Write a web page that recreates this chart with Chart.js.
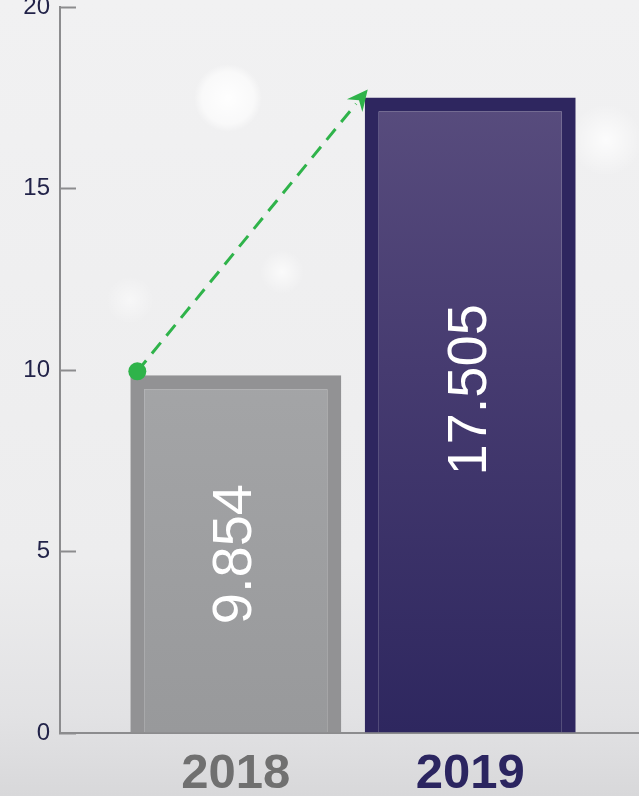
<!DOCTYPE html>
<html>
<head>
<meta charset="utf-8">
<script src="https://cdn.jsdelivr.net/npm/chart.js@4"></script>
<style>
    body {
        margin: 0;
        background:
            radial-gradient(circle at 228px 98px, rgba(255,255,255,0.95) 0, rgba(255,255,255,0.6) 26px, rgba(255,255,255,0) 34px),
            radial-gradient(circle at 282px 272px, rgba(255,255,255,0.7) 0, rgba(255,255,255,0) 22px),
            radial-gradient(circle at 606px 140px, rgba(255,255,255,0.8) 0, rgba(255,255,255,0) 36px),
            radial-gradient(circle at 130px 300px, rgba(255,255,255,0.5) 0, rgba(255,255,255,0) 24px),
            linear-gradient(#f1f1f2 0%, #ededee 70%, #e2e2e4 90%, #d8d8da 100%);
    }
    .chart-box {
        position: relative;
        width: 639px;
        height: 796px;
    }
</style>
</head>
<body>
<div class="chart-box">
    <canvas id="growthChart"></canvas>
</div>
<script>
// Data
const years = ['2018', '2019'];
const values = [9.854, 17.505];
const yTicks = [0, 5, 10, 15, 20];

const yearColors = ['#707070', '#2b2560'];
const borderColors = ['#929294', '#2e265f'];

// Gradient fill for the inner part of each bar
const barFill = (context) => {
    const chart = context.chart;
    const area = chart.chartArea;
    if (!area) return '#999';
    const g = chart.ctx.createLinearGradient(0, area.top, 0, area.bottom);
    if (context.dataIndex === 0) {
        g.addColorStop(0, '#b0b1b3');
        g.addColorStop(1, '#98999b');
    } else {
        g.addColorStop(0, '#5e5282');
        g.addColorStop(0.5, '#463b70');
        g.addColorStop(1, '#2e275f');
    }
    return g;
};

// Values written sideways inside the bars + green growth arrow
const barExtras = {
    id: 'barExtras',
    afterDatasetsDraw(chart) {
        const ctx = chart.ctx;
        const bars = chart.getDatasetMeta(0).data;
        const base = chart.scales.y.getPixelForValue(0);
        const labelAt = [0.5, 0.54];

        bars.forEach((bar, i) => {
            const y = base - (base - bar.y) * labelAt[i];
            ctx.save();
            ctx.translate(bar.x, y);
            ctx.rotate(-Math.PI / 2);
            ctx.fillStyle = '#ffffff';
            ctx.font = '56px "Liberation Sans", Arial, sans-serif';
            ctx.textAlign = 'center';
            ctx.textBaseline = 'middle';
            ctx.fillText(values[i].toFixed(3), 0, 0);
            ctx.restore();
        });

        const a = bars[0], b = bars[1];
        const x1 = a.x - a.width / 2 + 7, y1 = a.y - 4;
        const x2 = b.x - b.width / 2 + 3, y2 = b.y - 8;
        const ang = Math.atan2(y2 - y1, x2 - x1);
        const head = 23;

        ctx.save();
        ctx.strokeStyle = '#2fb34a';
        ctx.fillStyle = '#2fb34a';
        ctx.lineWidth = 3;
        ctx.setLineDash([14, 9]);
        ctx.beginPath();
        ctx.moveTo(x1, y1);
        ctx.lineTo(x2 - Math.cos(ang) * head * 0.8, y2 - Math.sin(ang) * head * 0.8);
        ctx.stroke();
        ctx.setLineDash([]);

        ctx.beginPath();
        ctx.moveTo(x2, y2);
        ctx.lineTo(x2 - head * Math.cos(ang - 0.45), y2 - head * Math.sin(ang - 0.45));
        ctx.lineTo(x2 - head * 0.6 * Math.cos(ang), y2 - head * 0.6 * Math.sin(ang));
        ctx.lineTo(x2 - head * Math.cos(ang + 0.45), y2 - head * Math.sin(ang + 0.45));
        ctx.closePath();
        ctx.fill();

        ctx.beginPath();
        ctx.arc(x1, y1, 9, 0, Math.PI * 2);
        ctx.fill();
        ctx.restore();
    }
};

const growthCtx = document.getElementById('growthChart');
new Chart(growthCtx, {
    type: 'bar',
    data: {
        datasets: [{
            data: values.map((v, i) => ({ x: i, y: v })),
            backgroundColor: barFill,
            borderColor: borderColors,
            borderWidth: 14,
            borderSkipped: 'bottom',
            barPercentage: 0.9,
            categoryPercentage: 1
        }]
    },
    options: {
        responsive: true,
        maintainAspectRatio: false,
        animation: false,
        layout: {
            padding: { top: 7, right: 0, bottom: 0, left: 0 }
        },
        plugins: {
            legend: { display: false },
            tooltip: { enabled: false }
        },
        scales: {
            x: {
                type: 'linear',
                min: -0.75,
                max: 1.72,
                offset: false,
                grid: { display: false },
                border: { color: '#8c8c8e', width: 2 },
                afterBuildTicks: scale => {
                    scale.ticks = years.map((y, i) => ({ value: i }));
                },
                afterFit: scale => {
                    scale.height = 63;
                    scale.paddingLeft = 0;
                    scale.paddingRight = 0;
                },
                ticks: {
                    autoSkip: false,
                    maxRotation: 0,
                    padding: 4,
                    color: ctx => yearColors[ctx.index],
                    font: { family: '"Liberation Sans", Arial, sans-serif', size: 49, weight: 'bold' },
                    callback: value => years[value]
                }
            },
            y: {
                min: 0,
                max: 20,
                afterBuildTicks: scale => {
                    scale.ticks = yTicks.map(v => ({ value: v }));
                },
                afterFit: scale => {
                    scale.width = 60;
                    scale.paddingTop = 0;
                    scale.paddingBottom = 0;
                },
                grid: {
                    drawOnChartArea: false,
                    drawTicks: true,
                    tickLength: -16,
                    tickWidth: 2,
                    tickColor: '#8c8c8e',
                    color: 'rgba(0,0,0,0)'
                },
                border: { color: '#8c8c8e', width: 2 },
                ticks: {
                    padding: 26,
                    color: '#222349',
                    font: { family: '"Liberation Sans", Arial, sans-serif', size: 24 }
                }
            }
        }
    },
    plugins: [barExtras]
});
</script>
</body>
</html>
